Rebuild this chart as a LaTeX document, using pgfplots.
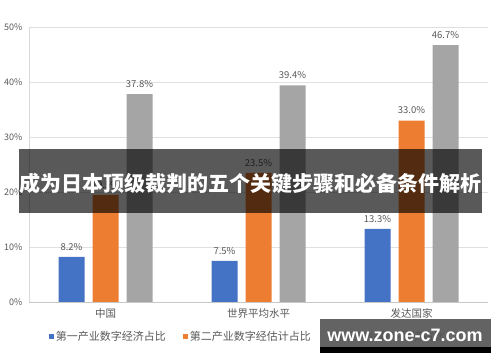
\documentclass[border=0pt]{standalone}
\usepackage{pgfplots}
\pgfplotsset{compat=1.18}
\usepackage{fontspec}
\setmainfont{Noto Sans CJK SC}
\newfontfamily\wmfont{Liberation Sans}
\definecolor{cblue}{RGB}{68,114,196}
\definecolor{corange}{RGB}{237,125,49}
\definecolor{cgray}{RGB}{165,165,165}
\definecolor{txt}{RGB}{89,89,89}
\begin{document}
\begin{tikzpicture}
\path[use as bounding box] (0,0) rectangle (500bp,362bp);
\begin{axis}[
  at={(29bp,60bp)}, anchor=south west,
  scale only axis, width=459bp, height=275bp,
  xmin=-0.5, xmax=2.5, ymin=0, ymax=50,
  xtick={0,1,2}, xticklabels={中国,世界平均水平,发达国家},
  ytick={0,10,20,30,40,50}, yticklabels={0\%,10\%,20\%,30\%,40\%,50\%},
  /pgf/number format/assume math mode=true,
  axis x line*=bottom, axis y line*=left,
  x axis line style={draw=black!22, line width=0.8bp},
  y axis line style={draw=black!15, line width=0.8bp},
  major tick length=0pt,
  ymajorgrids, grid style={draw=black!12, line width=0.8bp},
  ybar=8bp, bar width=26bp,
  xticklabel style={font=\fontsize{10.5bp}{12bp}\selectfont, text=txt, yshift=-3bp},
  yticklabel style={font=\fontsize{9bp}{10bp}\selectfont, text=txt, xshift=-3bp},
  nodes near coords={\pgfmathprintnumber[fixed,fixed zerofill,precision=1]{\pgfplotspointmeta}\%},
  every node near coord/.append style={font=\fontsize{9.5bp}{10bp}\selectfont, text=txt, yshift=3bp},
  legend columns=3,
  legend style={draw=none, fill=none, inner sep=0pt, at={(0.043,-0.127)}, anchor=west,
    font=\fontsize{11bp}{12bp}\selectfont, text=txt,
    /tikz/every even column/.append style={column sep=15bp}},
  sq/.style={legend image code/.code={\fill[##1] (0bp,-2.5bp) rectangle (5bp,2.5bp);}},
]
\addplot[fill=cblue, draw=none, sq] coordinates {(0,8.2) (1,7.5) (2,13.3)};
\addplot[fill=corange, draw=none, sq] coordinates {(0,19.5) (1,23.5) (2,33.0)};
\addplot[fill=cgray, draw=none, sq] coordinates {(0,37.8) (1,39.4) (2,46.7)};
\legend{第一产业数字经济占比,第二产业数字经估计占比,第三产业数字经济占比}
\end{axis}
\fill[black, fill opacity=0.65] (19bp,149bp) rectangle (482bp,213bp);
\node[text=white, font=\bfseries\fontsize{21bp}{22bp}\selectfont, inner sep=0pt] at (250bp,178bp) {成为日本顶级裁判的五个关键步骤和必备条件解析};
\fill[black!68, fill opacity=0.9] (320bp,15bp) rectangle (491bp,43bp);
\fill[black] (320bp,9bp) rectangle (491bp,15bp);
\node[text=white, font=\wmfont\bfseries\fontsize{18bp}{20bp}\selectfont, inner sep=0pt] at (405bp,27bp) {www.zone-c7.com};
\end{tikzpicture}
\end{document}
